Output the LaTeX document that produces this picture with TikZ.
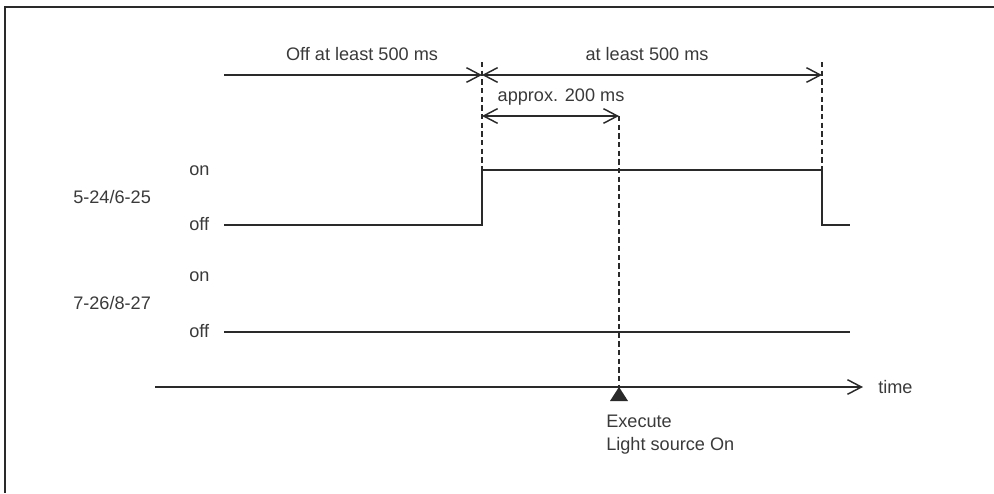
\documentclass[tikz,border=0pt]{standalone}
\usepackage{fontspec}
\setmainfont{Liberation Sans}
\usetikzlibrary{arrows.meta}
\definecolor{ink}{HTML}{2A2A2A}
\definecolor{txt}{HTML}{3A3A3A}
\begin{document}
\begin{tikzpicture}[x=0.75pt,y=-0.75pt,
  line/.style={draw=ink,line width=1.1pt},
  frameline/.style={draw=ink,line width=1.6pt},
  dashline/.style={draw=ink,line width=1.1pt,dash pattern=on 4pt off 2.5pt},
  barb/.tip={Straight Barb[length=10.5pt,width=11pt,line width=1.1pt]},
  lbl/.style={text=txt,font=\fontsize{13.6pt}{15pt}\selectfont,inner sep=0pt},
  lbll/.style={lbl,anchor=west}]
\useasboundingbox (0,0) rectangle (994,493);
% frame
\coordinate (ftr) at (994,7);
\coordinate (ftl) at (5,7);
\coordinate (fbl) at (5,493);
\draw[frameline] (ftr) -- (ftl) -- (fbl);

% key coordinates
\coordinate (a0) at (224,75);
\coordinate (a1) at (482,75);
\coordinate (a2) at (822,75);
\coordinate (b1) at (482,116);
\coordinate (b2) at (619,116);
\coordinate (d1top) at (482,62);
\coordinate (d1bot) at (482,170);
\coordinate (d2top) at (822,62);
\coordinate (d2bot) at (822,170);

% top arrows
\draw[line,-{barb}] (a0) -- (a1);
\draw[line,{barb}-{barb}] (a1) -- (a2);
\draw[line,{barb}-{barb}] (b1) -- (b2);
\draw[dashline] (d1top) -- (d1bot);
\draw[dashline] (d2top) -- (d2bot);

\node[lbl] (t1) at (362,54) {Off at least 500 ms};
\node[lbl] (t2) at (647,54) {at least 500 ms};
\node[lbl] (t3) at (561,97) {approx. 200 ms};

% signal 1
\coordinate (s1a) at (224,225);
\coordinate (s1b) at (482,225);
\coordinate (s1c) at (482,170);
\coordinate (s1d) at (822,170);
\coordinate (s1e) at (822,225);
\coordinate (s1f) at (850,225);
\draw[line] (s1a) -- (s1b) -- (s1c) -- (s1d) -- (s1e) -- (s1f);

\node[lbll] (on1) at (189,171) {on};
\node[lbll] (n1) at (73,197) {5-24/6-25};
\node[lbll] (off1) at (189,224) {off};

% signal 2
\coordinate (s2a) at (224,332);
\coordinate (s2b) at (850,332);
\draw[line] (s2a) -- (s2b);
\node[lbll] (on2) at (189,277) {on};
\node[lbll] (n2) at (73,303) {7-26/8-27};
\node[lbll] (off2) at (189,331) {off};

% time axis
\coordinate (ta) at (155,387);
\coordinate (tb) at (863,387);
\draw[line,-{barb}] (ta) -- (tb);
\node[lbll] (time) at (878,387) {time};

% execute marker
\coordinate (ex) at (619,387);
\draw[dashline] (b2) -- (ex);
\fill[ink] (ex) -- (628,401) -- (610,401) -- cycle;
\node[lbll] (exe) at (606,421) {Execute};
\node[lbll] (lso) at (606,446) {Light source On};
\end{tikzpicture}
\end{document}
